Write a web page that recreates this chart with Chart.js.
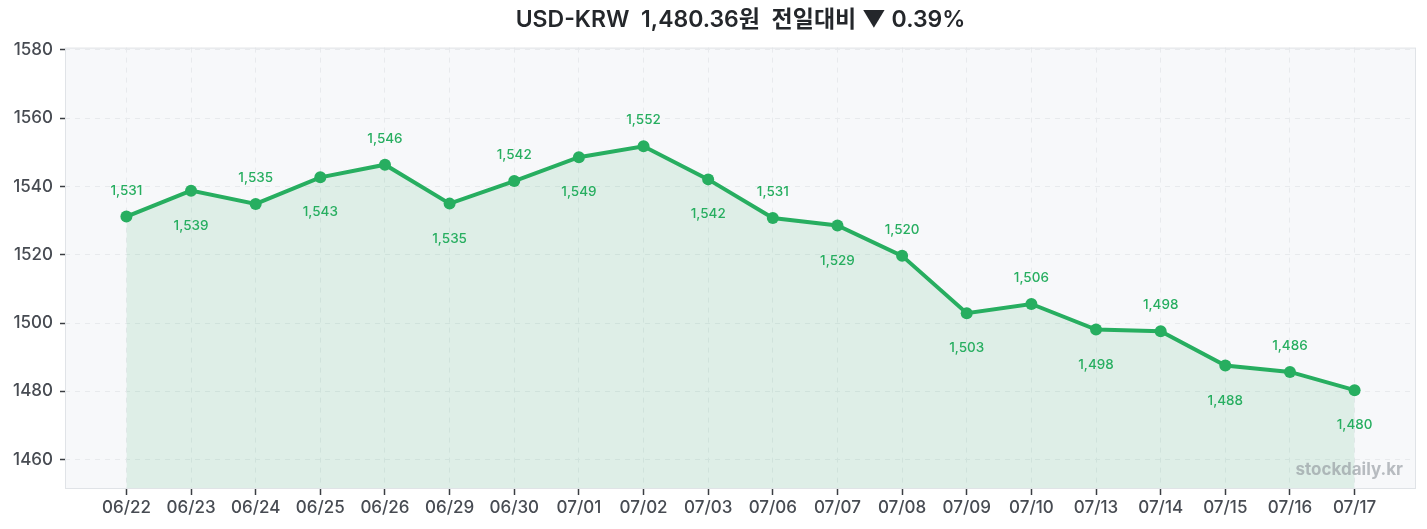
<!DOCTYPE html>
<html>
<head>
<meta charset="utf-8">
<script src="https://cdn.jsdelivr.net/npm/chart.js@4.4.1/dist/chart.umd.min.js"></script>
<style>
  html, body { margin: 0; padding: 0; background: #ffffff; }
  #wrap { width: 1427px; height: 529px; }
</style>
</head>
<body>
<div id="wrap"><canvas id="c" width="1427" height="529"></canvas></div>
<script>
const dates = ['06/22','06/23','06/24','06/25','06/26','06/29','06/30','07/01','07/02','07/03','07/06','07/07','07/08','07/09','07/10','07/13','07/14','07/15','07/16','07/17'];
const rates = [1531.2,1538.8,1534.9,1542.7,1546.4,1535.0,1541.6,1548.6,1551.8,1542.1,1530.8,1528.6,1519.7,1502.9,1505.6,1498.1,1497.6,1487.6,1485.7,1480.36];
const yTicks = [1460,1480,1500,1520,1540,1560,1580];
const titleText = 'USD-KRW  1,480.36원  전일대비 ▼ 0.39%';
const watermark = 'stockdaily.kr';

const FONT = "Inter, 'Noto Sans CJK KR', 'Noto Sans', sans-serif";
const GREEN = '#27ae60';

const plotBg = {
  id: 'plotBg',
  beforeDraw(chart) {
    const {ctx, chartArea: a} = chart;
    ctx.save();
    ctx.fillStyle = '#f7f8fa';
    ctx.fillRect(a.left, a.top, a.right - a.left, a.bottom - a.top);
    ctx.restore();
  },
  afterDraw(chart) {
    const {ctx, chartArea: a} = chart;
    ctx.save();
    ctx.strokeStyle = '#e0e3e7';
    ctx.lineWidth = 1;
    ctx.strokeRect(a.left + 0.5, a.top + 0.5, a.right - a.left - 1, a.bottom - a.top);
    ctx.font = "700 17px " + FONT;
    ctx.fillStyle = 'rgba(140,146,154,0.6)';
    ctx.textAlign = 'right';
    ctx.textBaseline = 'middle';
    ctx.fillText(watermark, a.right - 13, a.bottom - 18);
    ctx.restore();
  }
};

const valueLabels = {
  id: 'valueLabels',
  afterDatasetsDraw(chart) {
    const {ctx} = chart;
    const meta = chart.getDatasetMeta(0);
    ctx.save();
    ctx.font = "500 13.5px " + FONT;
    ctx.fillStyle = GREEN;
    ctx.textAlign = 'center';
    ctx.textBaseline = 'middle';
    meta.data.forEach((el, i) => {
      const v = rates[i];
      const txt = Math.round(v).toLocaleString('en-US');
      const dy = (i % 2 === 0) ? -26 : 35;
      ctx.fillText(txt, el.x, el.y + dy);
    });
    ctx.restore();
  }
};

new Chart(document.getElementById('c'), {
  type: 'line',
  data: {
    datasets: [{
      data: rates.map((v, i) => ({x: i, y: v})),
      borderColor: GREEN,
      backgroundColor: 'rgba(39,174,96,0.12)',
      borderWidth: 4,
      pointRadius: 6,
      pointBackgroundColor: GREEN,
      pointBorderColor: GREEN,
      pointBorderWidth: 0,
      fill: 'start',
      tension: 0
    }]
  },
  options: {
    responsive: false,
    animation: false,
    devicePixelRatio: 1,
    layout: { padding: { left: 0, right: 11, top: 0, bottom: 0 } },
    plugins: {
      legend: { display: false },
      tooltip: { enabled: false },
      title: {
        display: true,
        text: titleText,
        fullSize: false,
        color: '#24272b',
        font: { family: FONT, size: 23, weight: '600' },
        padding: { top: 6, bottom: 14 }
      }
    },
    scales: {
      x: {
        type: 'linear',
        min: -0.95,
        max: 19.95,
        afterBuildTicks(scale) { scale.ticks = dates.map((_, i) => ({value: i})); },
        afterFit(scale) { scale.height = 41; },
        border: { display: false, dash: [5, 5] },
        grid: {
          color: '#e8eaed',
          tickColor: '#3a3d42',
          tickLength: 7,
          tickWidth: 1.5,
          lineWidth: 1
        },
        ticks: {
          color: '#474b52',
          font: { family: FONT, size: 17, weight: '500' },
          padding: 3,
          maxRotation: 0,
          autoSkip: false,
          callback: (v) => dates[v]
        }
      },
      y: {
        min: 1451.7,
        max: 1580.7,
        afterBuildTicks(scale) { scale.ticks = yTicks.map(v => ({value: v})); },
        afterFit(scale) { scale.width = 65; },
        border: { display: false, dash: [5, 5] },
        grid: {
          color: '#e8eaed',
          tickColor: '#3a3d42',
          tickLength: 5,
          tickWidth: 1.5,
          lineWidth: 1
        },
        ticks: {
          color: '#474b52',
          font: { family: FONT, size: 17, weight: '500' },
          padding: 7,
          callback: (v) => String(v)
        }
      }
    }
  },
  plugins: [plotBg, valueLabels]
});
</script>
</body>
</html>
